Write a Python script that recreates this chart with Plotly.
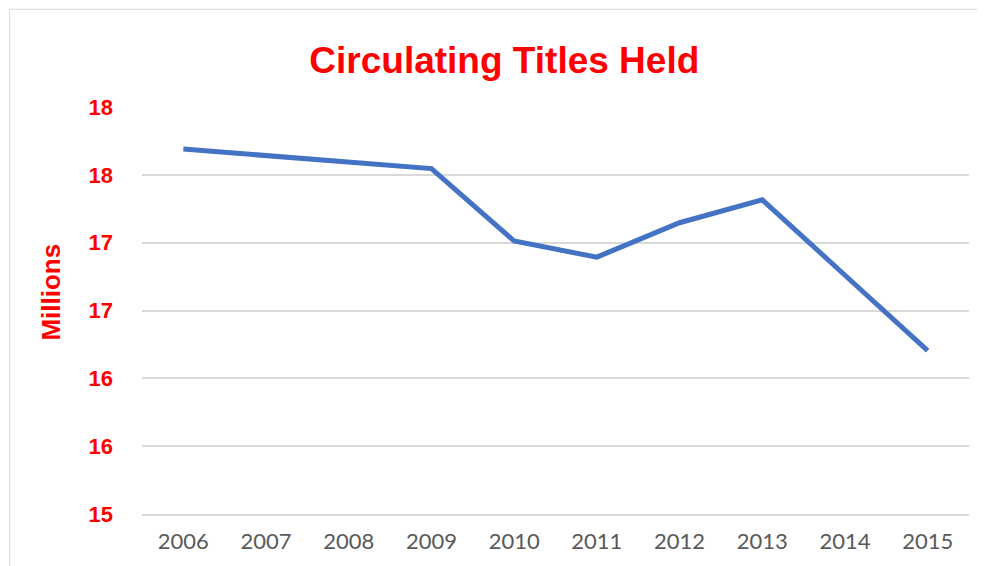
import plotly.graph_objects as go

years = ["2006", "2007", "2008", "2009", "2010", "2011", "2012", "2013", "2014", "2015"]
titles_millions = [17.69, 17.64, 17.595, 17.546, 17.012, 16.893, 17.147, 17.316, 16.76, 16.204]

y_tickvals = [15.0, 15.5, 16.0, 16.5, 17.0, 17.5, 18.0]
y_ticktext = ["15", "16", "16", "17", "17", "18", "18"]

RED = "#ff0000"
GRID = "#d9d9d9"

fig = go.Figure()

fig.add_trace(
    go.Scatter(
        x=years,
        y=titles_millions,
        mode="lines",
        line=dict(color="#4472c4", width=5),
        showlegend=False,
    )
)

# page body adds an 8px offset, so the figure is 8px smaller than the window
fig.update_layout(
    width=977,
    height=558,
    margin=dict(l=134, r=16, t=99, b=46),
    paper_bgcolor="white",
    plot_bgcolor="white",
    title=dict(
        text="<b>Circulating Titles Held</b>",
        x=0.508,
        xanchor="center",
        y=0.907,
        yanchor="middle",
        font=dict(family="Liberation Sans, Arial", size=37, color=RED),
    ),
    annotations=[
        dict(
            text="<b>Millions</b>",
            xref="paper",
            yref="paper",
            x=-0.11,
            y=0.544,
            xanchor="center",
            yanchor="middle",
            textangle=-90,
            showarrow=False,
            font=dict(family="Liberation Sans, Arial", size=26, color=RED),
        )
    ],
    # chart frame, cut off at right and bottom
    shapes=[
        dict(
            type="rect",
            xref="paper",
            yref="paper",
            x0=-0.16,
            x1=1.2,
            y0=-0.3,
            y1=1.24,
            line=dict(color=GRID, width=1),
            layer="below",
        )
    ],
)

fig.update_xaxes(
    type="category",
    range=[-0.5, 9.5],
    showgrid=False,
    showline=True,
    linecolor=GRID,
    linewidth=2,
    ticks="",
    ticklabelstandoff=7,
    tickfont=dict(family="Lato, Roboto", size=22, color="#595959"),
)

fig.update_yaxes(
    range=[15, 18],
    tickvals=y_tickvals,
    ticktext=y_ticktext,
    showgrid=True,
    gridcolor=GRID,
    gridwidth=2,
    zeroline=False,
    ticks="",
    ticklabelstandoff=28,
    tickfont=dict(family="Liberation Sans, Arial", size=22, color=RED, weight="bold"),
)

fig.write_html("out.html")
